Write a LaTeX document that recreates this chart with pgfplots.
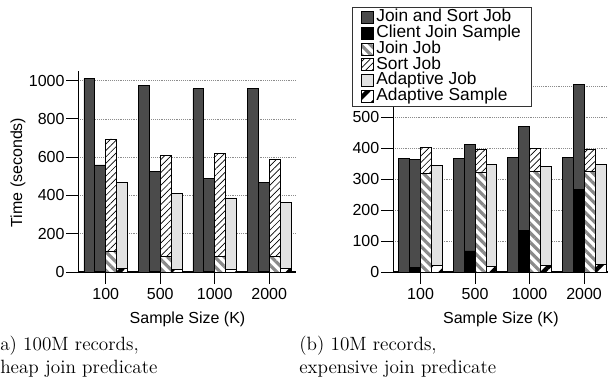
\documentclass[border=0pt]{standalone}
\usepackage{pgfplots}
\pgfplotsset{compat=1.18}
\usepackage{fontspec}
\newfontfamily\arial{Liberation Sans}
\usetikzlibrary{patterns.meta}

\definecolor{jsgray}{HTML}{4B4B4B}
\definecolor{adgray}{HTML}{E2E2E2}
\definecolor{stripegray}{HTML}{8A8A8A}

\makeatletter
\newcommand\myresetstack{%
  \pgfplots@stacked@isfirstplottrue
  \addplot[forget plot, draw=none, fill=none] coordinates {(0,0) (1,0) (2,0) (3,0)};%
}
\makeatother

\pgfplotsset{
  mybase/.style={
    scale only axis, height=150.75pt,
    ybar stacked, bar width=0.2,
    xmin=-0.5, ymin=0,
    xtick={0,1,2,3}, xticklabels={100,500,1000,2000},
    axis x line*=bottom, axis y line*=left,
    tick align=outside, major tick length=9pt,
    ymajorgrids, grid style={densely dotted, black!45, line width=0.5pt},
    tick label style={font=\arial\fontsize{12}{14}\selectfont},
    yticklabel style={xshift=2pt},
    /pgf/number format/assume math mode=true,
    /pgf/number format/1000 sep={},
    label style={font=\arial\fontsize{12}{14}\selectfont},
    xlabel style={at={(axis description cs:0.5,-0.238)}, anchor=center},
    x axis line style={line width=1pt, black},
    y axis line style={line width=0.6pt, black},
    every tick/.style={black, line width=0.6pt},
    xlabel={Sample Size (K)},
  },
  jsjob/.style={fill=jsgray, draw=black, line width=0.6pt},
  cjs/.style={fill=black, draw=black, line width=0.6pt},
  joinjob/.style={preaction={fill=white}, pattern={Lines[angle=-45,distance=5pt,line width=2.4pt]}, pattern color=stripegray, draw=black, line width=0.6pt},
  sortjob/.style={preaction={fill=white}, pattern={Lines[angle=45,distance=3.4pt,line width=0.5pt]}, pattern color=black, draw=black, line width=0.6pt},
  adjob/.style={fill=adgray, draw=black, line width=0.6pt},
  adsample/.style={preaction={fill=white}, pattern={Lines[angle=45,distance=9pt,line width=3.2pt]}, pattern color=black, draw=black, line width=0.6pt},
  sqlegend/.style={legend image code/.code={\draw[##1] (0pt,-4.5pt) rectangle (9pt,4.5pt);}},
}

\begin{document}
\begin{tikzpicture}

% ---------------- (a) ----------------
\begin{axis}[mybase,
  at={(58.875pt,89.25pt)}, anchor=south west,
  width=163.5pt, xmax=3.5, ymax=1050,
  ytick={0,200,400,600,800,1000},
  ylabel={Time (seconds)},
  ylabel style={at={(axis description cs:-0.2775,0.495)}, anchor=center},
]
% bar 1: Join and Sort Job
\addplot[jsjob, bar shift=-0.3, forget plot] coordinates {(0,1010) (1,975) (2,957) (3,957)};
\myresetstack
% bar 2: Client Join Sample + Join and Sort Job
\addplot[cjs, bar shift=-0.1, forget plot] coordinates {(0,2) (1,2) (2,2) (3,2)};
\addplot[jsjob, bar shift=-0.1, forget plot] coordinates {(0,557) (1,523) (2,485) (3,468)};
\myresetstack
% bar 3: Join Job + Sort Job
\addplot[joinjob, bar shift=0.1, forget plot] coordinates {(0,106) (1,80) (2,80) (3,80)};
\addplot[sortjob, bar shift=0.1, forget plot] coordinates {(0,589) (1,527) (2,541) (3,510)};
\myresetstack
% bar 4: Adaptive Sample + Adaptive Job
\addplot[adsample, bar shift=0.3, forget plot] coordinates {(0,18) (1,15) (2,15) (3,20)};
\addplot[adjob, bar shift=0.3, forget plot] coordinates {(0,452) (1,393) (2,372) (3,345)};
\end{axis}

% ---------------- (b) ----------------
\begin{axis}[mybase,
  at={(294.975pt,89.25pt)}, anchor=south west,
  width=161.5pt, xmax=3.45, ymax=650,
  ytick={0,100,200,300,400,500,600},
  legend style={at={(-0.19,1.318)}, anchor=north west,
    draw=black!80, line width=0.8pt, fill=white,
    font=\arial\fontsize{13}{13}\selectfont,
    inner xsep=6pt, inner ysep=1.6pt, row sep=0pt,
    nodes={text height=8.8pt, text depth=2.4pt, inner ysep=0.3pt, inner xsep=2pt}},
  legend cell align=left,
]
\addplot[jsjob, bar shift=-0.3, forget plot] coordinates {(0,366) (1,366) (2,370) (3,369)};
\myresetstack
\addplot[cjs, bar shift=-0.1, forget plot] coordinates {(0,15) (1,68) (2,135) (3,267)};
\addplot[jsjob, bar shift=-0.1, forget plot] coordinates {(0,350) (1,343) (2,337) (3,340)};
\myresetstack
\addplot[joinjob, bar shift=0.1, forget plot] coordinates {(0,320) (1,322) (2,325) (3,325)};
\addplot[sortjob, bar shift=0.1, forget plot] coordinates {(0,82) (1,76) (2,75) (3,73)};
\myresetstack
\addplot[adsample, bar shift=0.3, forget plot] coordinates {(0,20) (1,18) (2,22) (3,25)};
\addplot[adjob, bar shift=0.3, forget plot] coordinates {(0,324) (1,330) (2,320) (3,323)};

\addlegendimage{jsjob, sqlegend}\addlegendentry{Join and Sort Job}
\addlegendimage{cjs, sqlegend}\addlegendentry{Client Join Sample}
\addlegendimage{joinjob, sqlegend}\addlegendentry{Join Job}
\addlegendimage{sortjob, sqlegend}\addlegendentry{Sort Job}
\addlegendimage{adjob, sqlegend}\addlegendentry{Adaptive Job}
\addlegendimage{adsample, sqlegend}\addlegendentry{Adaptive Sample}
\end{axis}

% captions
\node[anchor=base west, inner sep=0pt, font=\fontsize{14.4}{17}\selectfont] at (0pt,30.5pt) {a) 100M records,};
\node[anchor=base west, inner sep=0pt, font=\fontsize{14.4}{17}\selectfont] at (0pt,13.25pt) {heap join predicate};
\node[anchor=base west, inner sep=0pt, font=\fontsize{14.4}{17}\selectfont] at (224.25pt,30.5pt) {(b) 10M records,};
\node[anchor=base west, inner sep=0pt, font=\fontsize{14.4}{17}\selectfont] at (224.25pt,13.25pt) {expensive join predicate};

\pgfresetboundingbox
\useasboundingbox (0pt,0pt) rectangle (456pt,293.25pt);
\end{tikzpicture}
\end{document}
